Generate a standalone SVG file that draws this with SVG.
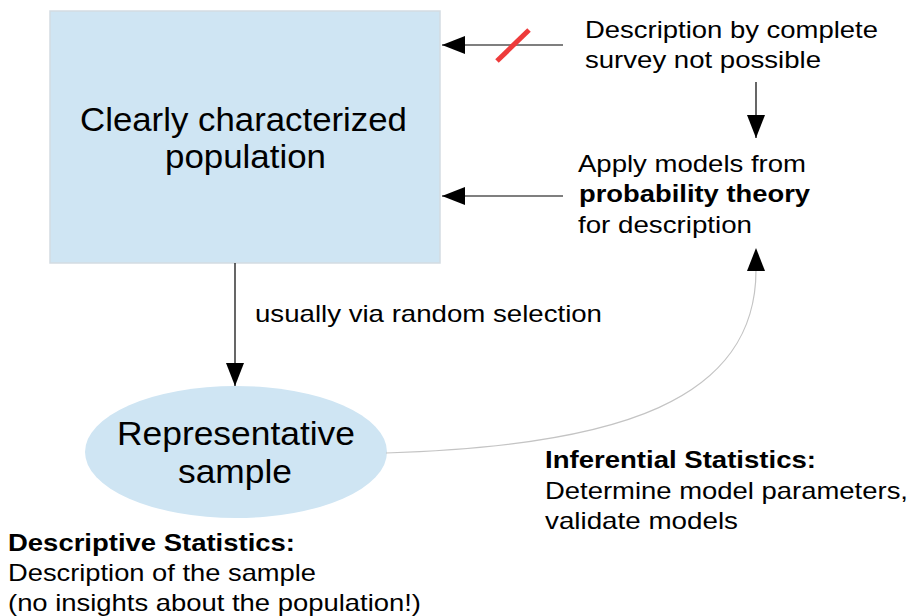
<svg xmlns="http://www.w3.org/2000/svg" width="911" height="616" viewBox="0 0 911 616">
<style>
text{font-family:"Liberation Sans",Arial,sans-serif;fill:#000;}
.big{font-size:33px;}
.t{font-size:24px;}
.b{font-weight:bold;}
.ln{stroke:#000;stroke-width:1.2;fill:none;}
</style>
<defs>
<marker id="ah" markerWidth="24" markerHeight="18" refX="23" refY="9" orient="auto" markerUnits="userSpaceOnUse">
<path d="M0,0 L23,9 L0,18 Z" fill="#000"/>
</marker>
</defs>
<rect width="911" height="616" fill="#fff"/>
<g id="population">
<rect x="50" y="11" width="390" height="252" fill="#cfe5f3" stroke="#d3dbe2" stroke-width="1.5"/>
<text class="big" x="243.5" y="131" text-anchor="middle" textLength="327" lengthAdjust="spacingAndGlyphs">Clearly characterized</text>
<text class="big" x="245.5" y="168" text-anchor="middle" textLength="161" lengthAdjust="spacingAndGlyphs">population</text>
</g>
<g id="sample">
<ellipse cx="236" cy="452" rx="151" ry="66" fill="#cfe5f3"/>
<text class="big" x="236" y="445" text-anchor="middle" textLength="238" lengthAdjust="spacingAndGlyphs">Representative</text>
<text class="big" x="235" y="483" text-anchor="middle" textLength="114" lengthAdjust="spacingAndGlyphs">sample</text>
</g>
<g id="survey">
<text class="t" x="585" y="38" textLength="293" lengthAdjust="spacingAndGlyphs">Description by complete</text>
<text class="t" x="585" y="68" textLength="236" lengthAdjust="spacingAndGlyphs">survey not possible</text>
</g>
<g id="models">
<text class="t" x="578" y="172" textLength="228" lengthAdjust="spacingAndGlyphs">Apply models from</text>
<text class="t b" x="579" y="202" textLength="231" lengthAdjust="spacingAndGlyphs">probability theory</text>
<text class="t" x="578" y="233" textLength="174" lengthAdjust="spacingAndGlyphs">for description</text>
</g>
<g id="inferential">
<text class="t b" x="545" y="468" textLength="271" lengthAdjust="spacingAndGlyphs">Inferential Statistics:</text>
<text class="t" x="545" y="499" textLength="363" lengthAdjust="spacingAndGlyphs">Determine model parameters,</text>
<text class="t" x="545" y="529" textLength="193" lengthAdjust="spacingAndGlyphs">validate models</text>
</g>
<g id="descriptive">
<text class="t b" x="8" y="551" textLength="287" lengthAdjust="spacingAndGlyphs">Descriptive Statistics:</text>
<text class="t" x="8" y="581" textLength="308" lengthAdjust="spacingAndGlyphs">Description of the sample</text>
<text class="t" x="8" y="611" textLength="413" lengthAdjust="spacingAndGlyphs">(no insights about the population!)</text>
</g>
<g id="connectors">
<line class="ln" x1="563" y1="45" x2="442" y2="45" marker-end="url(#ah)"/>
<line x1="497" y1="61" x2="529" y2="30" stroke="#ee3b3b" stroke-width="5"/>
<line class="ln" x1="756" y1="82" x2="756" y2="138" marker-end="url(#ah)"/>
<line class="ln" x1="563" y1="196" x2="442" y2="196" marker-end="url(#ah)"/>
<line class="ln" x1="235" y1="263" x2="235" y2="386" marker-end="url(#ah)"/>
<text class="t" x="255" y="322" textLength="347" lengthAdjust="spacingAndGlyphs">usually via random selection</text>
<path d="M386,453 C620,446 756,400 756,270" fill="none" stroke="#c4c4c4" stroke-width="1.2"/>
<path d="M747,271 L756,248 L765,271 Z" fill="#000"/>
</g>
</svg>
